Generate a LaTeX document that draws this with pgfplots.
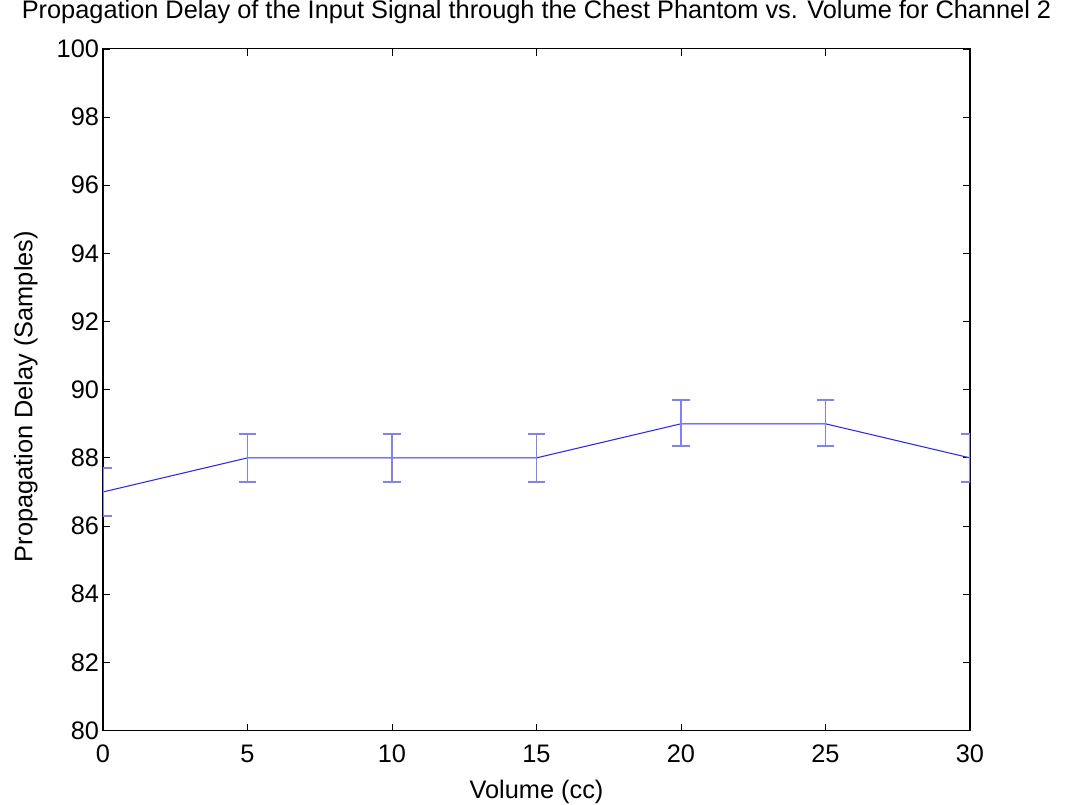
\documentclass[border=0pt]{standalone}
\usepackage{fontspec}
\setmainfont{Liberation Sans}
\usepackage{pgfplots}
\pgfplotsset{compat=1.18}
\begin{document}
\begin{tikzpicture}[x=1pt,y=1pt]
\begin{axis}[
  scale only axis,
  width=650pt, height=511pt,
  xmin=0, xmax=30, ymin=80, ymax=100,
  xtick={0,5,...,30}, ytick={80,82,...,100},
  tick align=inside, tick pos=both,
  major tick length=5pt,
  tick style={black, line width=0.6pt},
  axis line style={black, line width=0.8pt},
  font=\fontsize{19}{23}\selectfont,
  /pgf/number format/assume math mode=true,
  title={Propagation Delay of the Input Signal through the Chest Phantom vs. Volume for Channel 2},
  title style={at={(axis description cs:0.5,1.0327)}, anchor=base, inner sep=0pt},
  xlabel={Volume (cc)},
  ylabel={Propagation Delay (Samples)},
  xticklabel style={yshift=-7pt},
  yticklabel style={xshift=0.5pt},
  xlabel style={at={(axis description cs:0.5,-0.0998)}, anchor=base, inner sep=0pt},
  ylabel style={at={(axis description cs:-0.0815,0.49)}, anchor=base, inner sep=0pt},
  clip=true,
]
\addplot[color={rgb,255:red,40;green,40;blue,255}, line width=0.8pt, mark=none,
  error bars/.cd, y dir=both, y explicit,
  error mark options={rotate=90, mark size=6.6pt, line width=1.4pt, color={rgb,255:red,128;green,128;blue,255}},
  error bar style={line width=1.4pt, color={rgb,255:red,128;green,128;blue,255}}]
coordinates {
(0,87) +- (0,0.7)
(5,88) +- (0,0.7)
(10,88) +- (0,0.7)
(15,88) +- (0,0.7)
(20,89) += (0,0.7) -= (0,0.65)
(25,89) += (0,0.7) -= (0,0.65)
(30,88) +- (0,0.7)
};
\coordinate (bbbl) at (axis description cs:-0.1188,-0.1085);
\coordinate (bbtr) at (axis description cs:1.1119,1.0718);
\end{axis}
\pgfresetboundingbox
\path[use as bounding box] (bbbl) rectangle (bbtr);
\end{tikzpicture}
\end{document}
